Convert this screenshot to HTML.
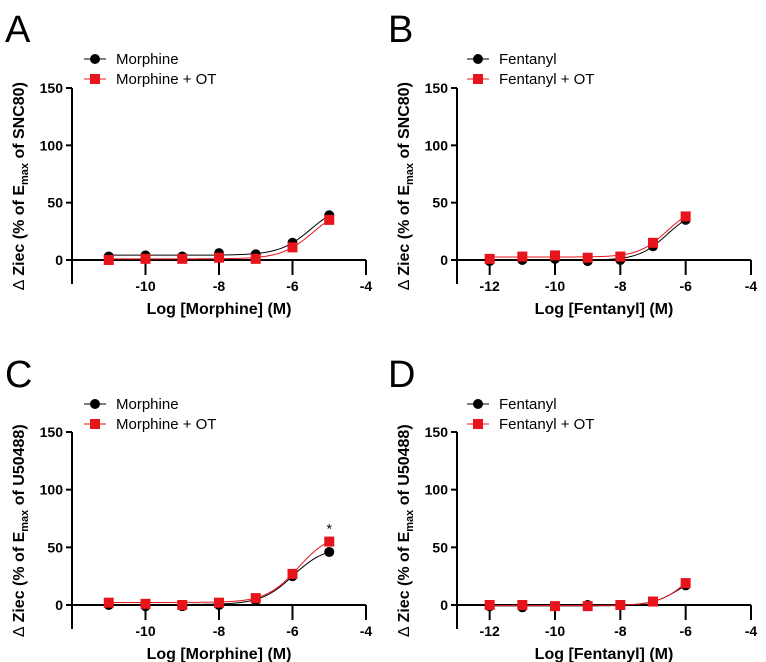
<!DOCTYPE html>
<html><head><meta charset="utf-8"><style>
html,body{margin:0;padding:0;background:#fff;}
svg{display:block;font-family:"Liberation Sans",Arial,sans-serif;}
</style></head><body>
<svg id="fig" width="766" height="662" viewBox="0 0 766 662"></svg>
<script>
const xA = [-11,-10,-9,-8,-7,-6,-5];
const aMor = [3,4,3,6,5,15,39];
const aMorOT = [0,1,1,2,1,11,35];
const xB = [-12,-11,-10,-9,-8,-7,-6];
const bFen = [-1,0,1,-1,0,12,35];
const bFenOT = [1,3,4,2,3,15,38];
const cMor = [0,-1,-1,0,4,25,46];
const cMorOT = [2,1,0,2,6,27,55];
const dFen = [-1,-2,-1,0,0,3,17];
const dFenOT = [0,0,-1,-1,0,3,19];
const yTicks = [0,50,100,150];
const xTicksA = [-10,-8,-6,-4];
const xTicksB = [-12,-10,-8,-6,-4];

const NS='http://www.w3.org/2000/svg';
const svg=document.getElementById('fig');
function mk(tag,attrs,parent){const e=document.createElementNS(NS,tag);for(const k in attrs)e.setAttribute(k,attrs[k]);(parent||svg).appendChild(e);return e;}
function smooth(pts){let d='M'+pts[0][0]+','+pts[0][1];for(let i=0;i<pts.length-1;i++){const p0=pts[Math.max(0,i-1)],p1=pts[i],p2=pts[i+1],p3=pts[Math.min(pts.length-1,i+2)];const c1=[p1[0]+(p2[0]-p0[0])/6,p1[1]+(p2[1]-p0[1])/6],c2=[p2[0]-(p3[0]-p1[0])/6,p2[1]-(p3[1]-p1[1])/6];d+=' C'+c1[0]+','+c1[1]+' '+c2[0]+','+c2[1]+' '+p2[0]+','+p2[1];}return d;}
function fitPath(xs,vs,X,Y){
  const n=xs.length;const b=vs.slice(0,n-2).reduce((a,c)=>a+c,0)/(n-2);
  const r1=vs[n-2]-b,r2=vs[n-1]-b;
  if(!(r1>0&&r2>0))return smooth(xs.map((v,i)=>[X(v),Y(vs[i])]));
  const r=r2/r1;if(r<=1.05||r>=9.9)return smooth(xs.map((v,i)=>[X(v),Y(vs[i])]));
  const u=(r-1)/(10-r);const T=r2*(1+u);const e=xs[n-1]+Math.log10(u);
  let d='';for(let k=0;k<=120;k++){const x=xs[0]+(xs[n-1]-xs[0])*k/120;const y=b+T/(1+Math.pow(10,e-x));d+=(k?' L':'M')+X(x).toFixed(2)+','+Y(y).toFixed(2);}
  return d;
}

function panel(o){
  const g=mk('g',{});
  
  
  const X=v=>o.x0+(v-o.xmin)/(o.xmax-o.xmin)*(o.x1-o.x0);
  const Y=v=>o.yz-(v/150)*(o.yz-o.yt);
  const L=mk('text',{x:o.ox+5,y:o.oy+42,'font-size':38,fill:'#000'},g);L.textContent=o.letter;
  
  const ya=mk('line',{x1:o.x0,y1:o.yt,x2:o.x0,y2:o.yz+24,stroke:'#000','stroke-width':2},g);
  
  const xa=mk('line',{x1:o.x0,y1:o.yz,x2:o.x1,y2:o.yz,stroke:'#000','stroke-width':2},g);
  
  yTicks.forEach(t=>{mk('line',{x1:o.x0-6,y1:Y(t),x2:o.x0,y2:Y(t),stroke:'#000','stroke-width':2},g);
    const tx=mk('text',{x:o.x0-9,y:Y(t)+5,'font-size':14,'font-weight':'bold','text-anchor':'end'},g);tx.textContent=t;
    });
  o.xt.forEach(t=>{mk('line',{x1:X(t),y1:o.yz,x2:X(t),y2:o.yz+15,stroke:'#000','stroke-width':2},g);
    const tx=mk('text',{x:X(t),y:o.yz+31,'font-size':14,'font-weight':'bold','text-anchor':'middle'},g);tx.textContent=t;
    });
  const xt=mk('text',{x:(o.x0+o.x1)/2,y:o.yz+54,'font-size':16,'font-weight':'bold','text-anchor':'middle'},g);xt.textContent=o.xtitle;
  
  const cy=(o.yt+o.yz+24)/2;
  const yt=mk('text',{x:0,y:0,'font-size':16,'font-weight':'bold','text-anchor':'middle',transform:`translate(${o.x0-48},${cy}) rotate(-90)`},g);
  yt.innerHTML='<tspan font-weight="normal">∆</tspan> Ziec (% of E<tspan font-size="11" dy="4">max</tspan><tspan dy="-4"> of '+o.ref+')</tspan>';
  
  o.series.forEach((s,si)=>{
    const pts=o.xs.map((v,i)=>[X(v),Y(s.v[i])]);
    const p=mk('path',{d:fitPath(o.xs,s.v,X,Y),fill:'none',stroke:s.c,'stroke-width':1},g);
    
    pts.forEach(q=>{let m;
      if(s.sq)m=mk('rect',{x:q[0]-5,y:q[1]-5,width:10,height:10,fill:s.c},g);
      else m=mk('circle',{cx:q[0],cy:q[1],r:5,fill:s.c},g);
      });
    const ly=o.oy+59+si*20;
    mk('line',{x1:o.ox+84,y1:ly,x2:o.ox+106,y2:ly,stroke:s.c,'stroke-width':1},g);
    if(s.sq)mk('rect',{x:o.ox+90,y:ly-5,width:10,height:10,fill:s.c},g);else mk('circle',{cx:o.ox+95,cy:ly,r:5,fill:s.c},g);
    const lt=mk('text',{x:o.ox+116,y:ly+5,'font-size':15},g);lt.textContent=s.n;
    
  });
  if(o.star){const st=mk('text',{x:X(-5),y:Y(o.star)-8,'font-size':14,'text-anchor':'middle'},g);st.textContent='*';
    }
}
panel({letter:'A',ox:0,oy:0,x0:72,x1:366,xmin:-12,xmax:-4,yt:88,yz:260,xs:xA,xt:xTicksA,xtitle:'Log [Morphine] (M)',ref:'SNC80',
  series:[{n:'Morphine',v:aMor,c:'#000'},{n:'Morphine + OT',v:aMorOT,c:'#e8141c',sq:1}]});
panel({letter:'B',ox:383,oy:0,x0:457,x1:751,xmin:-13,xmax:-4,yt:88,yz:260,xs:xB,xt:xTicksB,xtitle:'Log [Fentanyl] (M)',ref:'SNC80',
  series:[{n:'Fentanyl',v:bFen,c:'#000'},{n:'Fentanyl + OT',v:bFenOT,c:'#e8141c',sq:1}]});
panel({letter:'C',ox:0,oy:345,x0:72,x1:366,xmin:-12,xmax:-4,yt:432,yz:605,xs:xA,xt:xTicksA,xtitle:'Log [Morphine] (M)',ref:'U50488',star:55,
  series:[{n:'Morphine',v:cMor,c:'#000'},{n:'Morphine + OT',v:cMorOT,c:'#e8141c',sq:1}]});
panel({letter:'D',ox:383,oy:345,x0:457,x1:751,xmin:-13,xmax:-4,yt:432,yz:605,xs:xB,xt:xTicksB,xtitle:'Log [Fentanyl] (M)',ref:'U50488',
  series:[{n:'Fentanyl',v:dFen,c:'#000'},{n:'Fentanyl + OT',v:dFenOT,c:'#e8141c',sq:1}]});
</script>
</body></html>
